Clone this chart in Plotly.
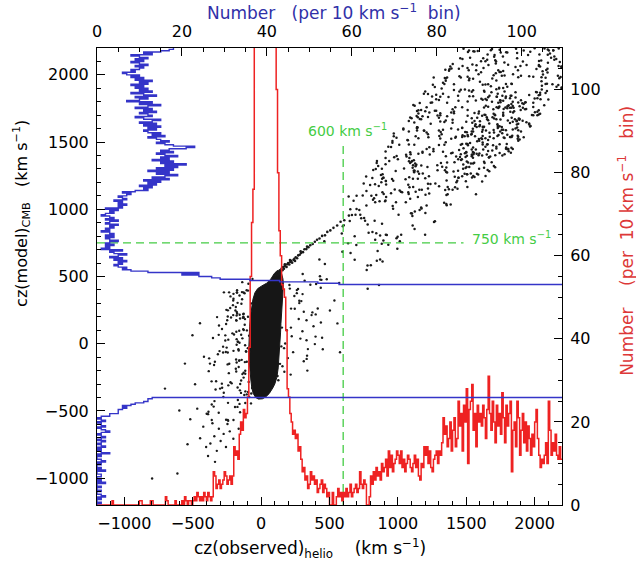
import plotly.graph_objects as go

FONT = "DejaVu Sans"
BIN_WIDTH = 10          # km/s per histogram bin
OBS_START = -1200       # first bin edge of cz(observed)
MODEL_START = -1200     # first bin edge of cz(model)

# Histogram of cz(observed)_helio (red, right axis), 10 km/s bins from -1200
red_counts = [
    0,0,0,0,0,0,0,0,0,0,
    0,1,0,0,0,0,0,0,0,0,
    0,0,0,0,0,0,0,0,0,0,
    0,1,1,0,0,0,0,0,0,1,
    1,0,0,0,0,0,0,0,0,0,
    2,1,0,0,0,0,0,1,0,0,
    0,0,1,0,2,1,0,1,1,0,
    1,2,1,3,2,1,2,1,3,2,
    1,3,2,1,2,8,7,4,5,6,
    4,5,6,8,7,5,6,7,5,7,
    14,12,13,11,17,20,18,23,21,22,
    26,38,55,68,76,180,320,450,520,560,
    580,600,560,520,480,430,380,320,260,200,
    150,100,80,66,60,53,52,50,42,28,
    26,22,20,17,18,16,17,13,14,11,
    8,9,6,7,4,5,8,6,7,5,
    6,3,4,5,6,3,5,4,2,3,
    0,0,3,0,0,2,4,2,3,1,
    3,2,4,2,3,5,2,3,4,5,
    3,4,8,5,4,6,5,0,0,2,
    7,5,8,6,9,7,8,6,10,8,
    9,11,7,13,9,12,8,10,11,13,
    12,10,13,9,11,8,10,12,11,9,
    8,10,12,9,11,7,6,10,9,14,
    12,14,10,13,9,8,11,12,13,10,
    13,12,15,21,17,19,14,16,20,13,
    18,21,14,16,25,19,22,13,24,20,
    28,10,23,25,29,18,22,14,24,20,
    22,19,24,21,16,23,31,22,18,25,
    20,15,24,19,22,17,27,21,15,24,
    19,22,25,8,18,20,14,25,21,12,
    18,22,15,20,13,19,16,12,17,14,
    20,23,16,12,9,11,10,12,15,10,
    25,18,12,15,13,17,12,11,14,11,
]

# Histogram of cz(model)_CMB (blue, top axis), 10 km/s bins from -1200
blue_counts = [
    0,1,0,0,1,0,2,1,0,0,
    1,0,0,1,0,0,2,0,1,0,
    0,1,1,0,0,2,0,1,0,0,
    1,0,2,1,0,0,1,0,3,1,
    0,1,0,2,1,0,1,2,0,1,
    2,1,0,1,3,2,1,0,2,1,
    1,0,2,1,0,1,3,3,5,5,
    5,6,7,6,8,9,11,12,12,13,
    140,180,220,260,300,340,380,420,460,500,
    540,560,580,600,620,640,650,660,670,680,
    690,700,700,710,720,720,730,730,740,740,
    750,750,760,760,760,770,770,770,780,780,
    780,780,790,790,790,780,780,770,770,760,
    760,750,740,730,720,710,700,680,660,640,
    620,600,580,560,540,520,500,470,440,410,
    380,350,320,290,260,230,200,180,160,140,
    250,200,160,125,57,52,43,36,29,27,
    24,20,24,12,8,6,7,5,4,6,
    5,7,4,6,3,5,7,4,3,6,
    1,3,2,4,2,3,5,3,2,4,
    2,4,3,1,3,2,4,3,5,2,
    3,5,2,4,3,1,2,4,3,5,
    2,6,5,7,5,6,4,7,6,5,
    7,8,6,9,12,11,13,10,14,12,
    15,11,17,13,16,19,14,17,12,18,
    14,19,16,21,15,18,13,17,15,19,
    16,14,18,15,17,21,23,18,16,14,
    17,15,14,12,16,13,15,12,11,14,
    12,15,11,14,10,13,15,11,9,13,
    12,10,14,11,13,9,12,15,10,13,
    7,10,12,9,14,11,8,13,10,12,
    9,11,8,12,10,13,9,11,8,10,
    7,6,9,8,10,11,9,12,10,8,
    11,9,12,10,8,13,11,15,17,18,
]

# Outline (obs, model) of the saturated dense core of galaxies
core_outline = [
    (118,545),(135,540),(150,520),(160,480),(163,440),(160,400),(157,340),(155,290),
    (150,220),(145,150),(142,80),(140,40),(135,-30),(130,-100),(125,-180),(115,-250),
    (100,-300),(85,-330),(60,-370),(35,-395),(10,-410),(-20,-412),(-40,-400),(-58,-370),
    (-68,-330),(-75,-270),(-82,-200),(-88,-120),(-90,-40),(-88,50),(-84,130),(-78,200),
    (-70,270),(-60,330),(-45,380),(-25,410),(5,430),(40,450),(70,480),(95,520),
]

# Individual galaxies (obs, model) around the core
halo_points = [
    (-202,371),(-234,382),(-128,381),(-272,382),(-140,384),(-158,359),(-172,304),(-224,352),(-202,335),
    (-178,236),(-244,202),(-206,287),(-188,247),(-204,213),(-254,252),(-226,266),(-128,224),(-144,297),
    (-248,175),(-180,172),(-256,147),(-286,109),(-308,136),(-130,199),(-128,195),(-220,195),(-182,174),
    (-160,96),(-198,69),(-146,67),(-262,62),(-210,77),(-262,24),(-158,7),(-310,66),(-240,30),
    (-244,-65),(-278,-65),(-202,-53),(-166,-41),(-304,-55),(-252,-29),(-258,-62),(-316,-79),(-278,-22),
    (-374,-148),(-233,-149),(-338,-134),(-344,-158),(-161,-126),(-164,-173),(-245,-154),(-119,-137),(-380,-109),
    (-182,-207),(-362,-280),(-287,-297),(-215,-295),(-116,-201),(-329,-279),(-236,-219),(-137,-226),(-224,-287),
    (-333,-341),(-300,-334),(-72,-371),(-276,-396),(-273,-365),(-285,-328),(-240,-310),(-87,-397),(-147,-366),
    (-191,-471),(-158,-448),(-242,-440),(-116,-441),(-74,-444),(-173,-470),(-341,-427),(-170,-419),(-347,-468),
    (-361,-568),(-310,-514),(-241,-573),(-385,-506),(-256,-566),(-154,-510),(-388,-524),(-202,-568),(-244,-567),
    (-177,382),(-106,398),(-176,380),(-121,375),(-139,331),(-96,395),
    (-175,225),(-179,210),(-130,219),(-96,201),(-157,215),(-185,273),
    (-118,183),(-120,141),(-154,187),(-133,193),(-131,107),(-127,102),
    (-171,15),(-137,40),(-181,89),(-169,14),(-104,99),(-179,34),
    (-117,-12),(-109,-59),(-97,-33),(-164,-50),(-179,-8),(-111,-56),
    (-159,-124),(-185,-186),(-179,-140),(-105,-134),(-142,-120),(-183,-118),
    (-146,-274),(-128,-252),(-153,-300),(-91,-284),(-128,-216),(-116,-223),
    (-95,-359),(-123,-382),(-155,-347),(-172,-326),(-105,-377),(-115,-355),
    (-402,-768),(-388,-836),(-446,-703),(-337,-879),(-538,-748),(-612,-966),(-703,-334),
    (-797,-1003),(-518,-562),(-467,-483),(-423,-617),(-361,-452),(-383,-204),(-418,-97),
    (-352,43),(-322,198),(-447,152),(-243,248),(-204,321),(-176,398),(-557,-148),
    (-483,-302),(-598,-497),(-502,63),(-138,458),(-63,482),(-93,446),(-371,-743),
    (-257,-769),(-324,-797),(-296,-724),(-342,-689),(-309,-633),(-274,-671),(-229,-652),
    (-203,-707),(-246,-597),(-356,-592),(-164,-633),(-398,-521),
    (-86,-150),(-82,-60),(-88,60),(152,120),(148,-20),(138,-150),(120,-240),(-72,300),(-66,-330),
    (207,437),(210,410),(441,475),(360,439),(270,407),(432,477),(402,444),
    (261,399),(279,320),(303,369),(243,355),(294,317),(279,302),(261,376),
    (399,218),(312,238),(246,260),(414,262),(219,261),(375,233),(369,213),
    (275,184),(437,158),(383,130),(188,100),(332,175),(218,120),
    (446,44),(302,93),(287,38),(332,26),(224,56),(176,2),
    (393,-3),(342,-40),(168,-33),(234,-63),(336,-89),
    (156,-168),(338,-200),(312,-130),(196,-107),
    (126,-272),(216,-230),(170,-209),
    (503,247),(558,151),(536,322),(577,-64),(451,-41),(398,53),(480,480),(333,-113),
]

# Narrow diagonal streak leaving the core toward higher velocities
streak_points = [
    (103,507),(111,521),(119,513),(124,532),(131,519),(137,546),(143,536),(149,558),
    (156,547),(161,571),(167,558),(173,577),(179,587),(186,571),(193,592),(198,600),
    (206,589),(213,608),(219,617),(227,603),(237,624),(243,631),(253,643),(263,636),
    (271,657),(282,662),(291,674),(306,681),(317,703),(331,704),(346,718),(359,733),
    (377,742),(393,758),(409,773),(427,783),(446,802),(467,806),(484,832),(506,843),
    (529,862),(556,879),(581,907),(608,918),(642,953),(173,590),(211,622),(248,615),
    (289,688),(336,722),
]

# Broad band of galaxies at larger velocities
band_points = [
    (1512,2171),(1520,2182),(2136,2181),(1920,2182),(1680,2184),(2112,2159),(2032,2104),
    (1656,2152),(1704,2135),(1768,2136),(1608,2102),(1744,2187),(1707,2147),(1653,2113),
    (2035,2152),(1800,2166),(1624,2124),(2072,2197),(1552,2175),(1968,2172),(1952,2147),
    (1712,2109),(2144,2136),(2000,2199),(1480,2195),(1864,2195),(1560,2174),(2176,2196),
    (1792,2169),(1752,2167),(1872,2162),(1584,2177),(1456,2124),(2048,2107),
    (1896,2066),(1374,2030),(1572,2035),(1878,2035),(1392,2047),(2196,2059),(2094,2045),
    (1575,2071),(1347,2038),(1752,2021),(1545,2078),(1626,2052),(1509,2051),(1473,2066),
    (1377,2042),(2031,2074),(2058,2027),(1446,2046),(2040,2063),(2097,2091),(1779,2093),
    (1608,2020),(2061,2003),(1590,2005),(1914,2099),(1743,2021),(1401,2081),(1662,2074),
    (1716,2013),(1860,2059),(2175,2066),(1770,2029),(1842,2004),(1518,2035),
    (1550,1972),(1960,1990),(1770,1903),(1830,1934),(1640,1929),(2050,1952),(1520,1960),
    (1720,1959),(1350,1956),(1410,1930),(1690,1973),(1262,1981),(2080,1932),(1340,1932),
    (1510,1986),(1256,1927),(2170,1994),(2090,1934),(1450,1990),(1343,1976),(1790,1932),
    (1833,1933),(1880,1982),(1700,1998),(1460,1980),(2180,1975),(2130,1931),(1780,1995),
    (2173,1925),(1270,1910),(2053,1919),(2198,1901),(1680,1915),(1523,1973),(2050,1983),
    (1330,1941),(1990,1987),(1900,1993),
    (1770,1807),(1510,1802),(1620,1815),(1790,1840),(1460,1889),(1650,1814),(1740,1899),
    (1660,1834),(1410,1888),(1550,1841),(2040,1867),(1960,1850),(1490,1892),(1830,1844),
    (1450,1876),(1300,1814),(1190,1860),(2080,1866),(2090,1880),(1630,1882),(1820,1826),
    (2030,1848),(1840,1800),(2100,1816),(1520,1884),(1780,1877),(1523,1841),(2043,1818),
    (1280,1853),(1633,1874),(1610,1823),(1440,1845),(1824,1844),(2000,1824),(1310,1837),
    (1570,1810),(1540,1875),(1250,1839),(1443,1807),(1200,1877),(1670,1844),(1320,1899),
    (1230,1720),(1840,1769),(1830,1755),(1560,1717),(1980,1702),(1113,1776),(1770,1718),
    (1170,1738),(1420,1760),(1660,1762),(1990,1761),(1280,1733),(1590,1713),(1920,1784),
    (1630,1758),(1200,1730),(1310,1700),(2070,1775),(1390,1720),(1400,1744),(1360,1793),
    (1510,1738),(2020,1726),(1820,1756),(1640,1702),(1750,1797),(1470,1760),(1890,1767),
    (2030,1737),(1700,1711),(1140,1732),(1710,1700),(1123,1770),(1240,1793),(1410,1728),
    (1643,1770),(1160,1791),(1593,1727),(1930,1744),(1150,1737),(1773,1747),(1633,1704),
    (1160,1672),(1870,1630),(1170,1669),(1720,1669),(1540,1677),(1970,1620),(1180,1693),
    (1140,1610),(1630,1614),(1966,1616),(1360,1692),(1090,1683),(1750,1668),(1730,1619),
    (1390,1602),(1600,1655),(1620,1615),(1624,1610),(1220,1686),(1560,1657),(1120,1646),
    (1240,1637),(1890,1672),(1143,1611),(1760,1612),(1840,1652),(1960,1638),(1290,1697),
    (1146,1684),(1820,1642),(1340,1650),(1080,1656),(1137,1695),(1880,1636),(1510,1696),
    (1100,1677),(1470,1607),(1650,1685),(1400,1644),(2020,1699),(1653,1669),(1770,1696),
    (1900,1579),(1620,1546),(1300,1586),(1130,1544),(1800,1554),(1700,1590),(1220,1559),
    (1190,1587),(1840,1593),(1070,1516),(1223,1536),(1880,1588),(1760,1592),(1780,1530),
    (960,1509),(1140,1587),(1440,1593),(1073,1514),(1660,1515),(1770,1592),(1763,1565),
    (1774,1535),(1790,1589),(1540,1579),(990,1532),(1470,1538),(1303,1546),(1310,1526),
    (970,1543),(1820,1538),(1420,1532),(1080,1579),(1473,1550),(1610,1528),(1193,1584),
    (1890,1519),(1703,1571),(1670,1569),(1424,1539),(1040,1593),(1313,1575),(1880,1510),
    (1830,1458),(1826,1420),(1620,1497),(1840,1449),(1570,1444),(1550,1459),(1500,1423),
    (1650,1407),(1120,1481),(950,1464),(1540,1406),(1180,1428),(1230,1462),(1233,1408),
    (1350,1499),(1470,1486),(1330,1428),(1590,1403),(1260,1448),(1090,1425),(1660,1434),
    (1400,1421),(1390,1417),(1543,1406),(1300,1479),(1620,1482),(1150,1414),(1340,1480),
    (1510,1486),(1790,1451),(1810,1432),(1080,1482),(910,1430),(930,1466),(1800,1447),
    (1093,1409),(1690,1438),(1624,1444),
    (937,1360),(1351,1395),(1414,1350),(1081,1358),(856,1322),(1135,1331),(1468,1372),
    (1630,1353),(847,1359),(1126,1340),(1084,1381),(1288,1328),(1360,1348),(1354,1311),
    (1324,1317),(1090,1345),(1477,1302),(1549,1384),(1108,1310),(1111,1327),(1594,1301),
    (1063,1393),(1666,1385),(1129,1321),(1630,1310),(1504,1355),(1104,1359),(1117,1364),
    (1558,1346),(1702,1322),(1540,1394),(1495,1389),(1099,1354),(1675,1393),(1045,1303),
    (910,1381),(991,1396),(845,1344),
    (885,1228),(1407,1281),(1497,1209),(1119,1275),(1533,1266),(1587,1259),(813,1233),
    (768,1244),(888,1261),(1110,1228),(1551,1247),(876,1256),(1641,1248),(1056,1223),
    (1542,1237),(1122,1286),(1353,1278),(1200,1231),(1578,1265),(1146,1227),(1434,1212),
    (879,1201),(1290,1290),(1344,1291),(1470,1245),(1488,1264),(984,1285),(1182,1266),
    (820,1292),(894,1234),(1506,1260),(1443,1234),(1116,1286),(912,1210),
    (1157,1145),(1346,1143),(887,1126),(1085,1164),(1076,1182),(896,1113),(1013,1139),
    (770,1136),(1355,1107),(1031,1126),(743,1102),(1373,1149),(1079,1114),(1571,1112),
    (860,1173),(1301,1172),(1175,1145),(833,1187),(698,1100),(1364,1166),(842,1106),
    (1022,1131),(1220,1155),(1238,1188),(1229,1117),(977,1148),(797,1181),(1436,1152),
    (1202,1109),(950,1120),
    (640,1096),(1210,1028),(770,1029),(962,1025),(1354,1040),(914,1091),(818,1071),
    (1058,1053),(676,1064),(1386,1036),(1090,1078),(1146,1092),(906,1059),(698,1003),
    (866,1060),(652,1001),(1170,1013),(1357,1030),(834,1053),(1173,1005),(1338,1048),
    (826,1082),(965,1004),(909,1066),(986,1052),
    (648,913),(1124,984),(830,914),(1103,969),(1106,951),(1159,994),(760,915),(1271,911),
    (690,960),(718,994),(732,933),(1264,905),(1201,972),(1096,970),(753,936),(664,957),
    (1005,959),(725,959),
    (590,819),(1122,853),(919,809),(842,821),(779,886),(1024,811),(597,873),(604,881),
    (884,893),(786,826),(1199,811),(1108,879),(814,831),(870,805),(912,811),
    (990,785),(636,748),(996,707),(882,744),(462,762),(930,737),(684,799),(1014,762),
    (834,774),(998,795),(894,767),(696,735),
    (846,618),(594,685),(654,675),(870,627),(684,624),(852,689),(888,612),(426,627),
    (466,593),(778,581),(802,583),(430,501),(304,519),(772,549),
    (318,468),(436,417),(571,452),(779,409),(862,437),
    (1356,1215),(1360,1273),(1668,1283),(1560,1241),(1440,1287),(1656,1293),(1616,1207),
    (1428,1202),
    (1502,1315),(1534,1340),(1454,1389),(1522,1314),(1505,1399),(1478,1334),(1666,1388),
    (1550,1341),(1462,1367),(1686,1350),(1426,1392),(1634,1344),
    (1696,1476),(1576,1414),(1792,1460),(1720,1466),(1460,1480),(1652,1482),(1500,1426),
    (1808,1448),(1616,1400),(1596,1416),(1656,1484),(1512,1477),(1448,1441),(1744,1418),
    (1736,1553),(1504,1574),(1592,1523),(1728,1545),(1512,1544),(1876,1524),(1824,1537),
    (1595,1510),(1492,1575),(1672,1539),(1580,1507),(1616,1577),(1564,1544),(1548,1599),
    (1564,1620),(1856,1669),(1868,1655),(1596,1617),(1860,1602),(1884,1676),(1744,1618),
    (1668,1638),(1870,1660),(1660,1662),(1804,1661),(1728,1633),(1576,1613),(1692,1684),
    (1786,1758),(1850,1730),(1990,1700),(1810,1775),(1842,1720),(1698,1744),(1734,1793),
    (1898,1738),(1822,1726),(1846,1756),(1770,1702),(1934,1797),(1722,1760),(1802,1767),
    (1724,1837),(1748,1811),(1860,1832),(1688,1800),(2016,1870),(1720,1893),(1788,1828),
    (1684,1870),(2052,1891),(2020,1827),(1764,1844),(1722,1837),
    (2144,2112),(2096,2149),(1472,2119),(1640,2101),(2136,2183),(2104,2181),(1688,2193),
    (1528,2127),(2158,2118),(2096,2189),(1872,2124),(2120,2127),
    (1806,2075),(1716,2085),(2094,2018),(1734,2035),(2031,2067),(2184,2095),(1941,2074),
    (2195,2062),(1718,2099),(2085,2037),(1383,2062),(2013,2044),
    (2197,1907),(1600,1948),(2190,1985),(1800,1911),(1740,1905),(1660,1931),(2080,1979),
    (2160,1911),(1620,1926),(1760,1993),(1360,1981),(1350,1973),
    (1900,1811),(1550,1886),(1640,1821),(1750,1809),(2040,1853),(1280,1819),(1330,1859),
    (1730,1859),(1220,1857),(1370,1836),(1860,1870),(2010,1872),
    (2030,1705),(1270,1733),(1250,1794),(1210,1760),(2040,1711),(1310,1715),(1880,1794),
    (1800,1751),(1804,1769),(1410,1714),(1830,1784),(1150,1713),
    (1500,1652),(1400,1666),(1470,1604),(1300,1682),(1940,1648),(1730,1605),(1310,1653),
    (1960,1630),(1733,1613),(1040,1601),(1350,1660),(1140,1603),
    (1320,1559),(1620,1592),(1550,1578),(1920,1536),(970,1564),(1510,1553),(1210,1571),
    (1330,1591),(1880,1540),(1390,1525),(1150,1529),(1700,1528),
    (960,1496),(1180,1420),(1460,1409),(1720,1452),(1010,1481),(1210,1448),(1490,1417),
    (1500,1488),(1480,1455),(1260,1431),(1060,1406),(1640,1466),
    (838,1300),(973,1387),(1315,1345),(1441,1372),(1000,1373),(1711,1312),(1216,1314),
    (1513,1349),(883,1302),(1171,1326),(1495,1307),(910,1336),
    (1083,1239),(966,1213),(1146,1282),(1155,1264),(957,1226),(1416,1243),(1227,1245),
    (912,1210),(1119,1286),(1443,1234),(1506,1260),(894,1234),
    (750,1192),(1112,1166),(914,1185),(1418,1164),(1400,1145),(1274,1191),(1220,1190),
    (806,1101),(1364,1112),(1076,1127),(1508,1165),(1130,1131),
    (1748,1578),(1644,1586),(1832,1537),(1616,1523),(1876,1548),(1536,1556),(1836,1547),
    (1640,1528),(1540,1561),(1488,1544),
    (1568,1633),(1912,1659),(1888,1666),(1704,1675),(1872,1609),(1832,1681),(1600,1628),
    (1544,1644),(1616,1696),(1580,1681),
    (1710,1703),(1990,1793),(1734,1754),(1910,1789),(1930,1794),(2002,1722),(1938,1746),
    (1742,1764),(1738,1759),(1914,1755),
    (1780,1410),(1556,1421),(1796,1485),(1528,1493),(1764,1401),(1548,1427),(1552,1410),
    (1744,1484),(1712,1402),(1540,1445),
]

# Reference velocity cuts (green dashed)
vcut_obs = 600
vcut_model_top = 1470
hcut_model = 750
hcut_obs_end = 1480
vcut_label = ("600 km s<sup>−1</sup>", 630, 1590)
hcut_label = ("750 km s<sup>−1</sup>", 1830, 790)

RED = "#ee2222"
BLUE = "#3434c8"
GREEN = "#44cc44"


def step_edges(start, counts):
    edges = [start + BIN_WIDTH * i for i in range(len(counts) + 1)]
    vals = list(counts) + [counts[-1]]
    return edges, vals


fig = go.Figure()

# dense core
fig.add_trace(go.Scatter(
    x=[p[0] for p in core_outline] + [core_outline[0][0]],
    y=[p[1] for p in core_outline] + [core_outline[0][1]],
    mode="lines", fill="toself", fillcolor="#161616",
    line=dict(color="#161616", width=1), hoverinfo="skip", showlegend=False,
))

for pts, size in ((halo_points, 2.4), (streak_points, 2.6), (band_points, 2.5)):
    fig.add_trace(go.Scatter(
        x=[p[0] for p in pts], y=[p[1] for p in pts], mode="markers",
        marker=dict(color="#1a1a1a", size=size, line=dict(width=0)),
        showlegend=False,
    ))

# blue histogram of model velocities (horizontal)
b_edges, b_vals = step_edges(MODEL_START, blue_counts)
fig.add_trace(go.Scatter(
    x=b_vals, y=b_edges, xaxis="x2", yaxis="y", mode="lines",
    line=dict(color=BLUE, width=1.4, shape="vh"), showlegend=False,
))

# red histogram of observed velocities
r_edges, r_vals = step_edges(OBS_START, red_counts)
fig.add_trace(go.Scatter(
    x=r_edges, y=r_vals, xaxis="x", yaxis="y2", mode="lines",
    line=dict(color=RED, width=1.5, shape="hv"), showlegend=False,
))

# green dashed cuts
fig.add_trace(go.Scatter(
    x=[vcut_obs, vcut_obs], y=[-1200, vcut_model_top], mode="lines",
    line=dict(color=GREEN, width=1.3, dash="8px,5px"), showlegend=False,
))
fig.add_trace(go.Scatter(
    x=[-1200, hcut_obs_end], y=[hcut_model, hcut_model], mode="lines",
    line=dict(color=GREEN, width=1.3, dash="8px,5px"), showlegend=False,
))

for text, xx, yy in (vcut_label, hcut_label):
    fig.add_annotation(x=xx, y=yy, xref="x", yref="y", text=text, showarrow=False,
                       font=dict(family=FONT, size=14, color=GREEN))

tickfont = dict(family=FONT, size=16, color="black")


def axis(**kw):
    d = dict(showline=True, linecolor="black", linewidth=1, ticks="inside", ticklen=8,
             tickwidth=1, tickcolor="black", showgrid=False, zeroline=False,
             tickfont=tickfont, tickmode="linear", ticklabelstandoff=4, automargin=False)
    d.update(kw)
    return d


fig.update_layout(
    width=636, height=565,
    margin=dict(l=97, r=74, t=48, b=60),
    paper_bgcolor="white", plot_bgcolor="white",
    font=dict(family=FONT),
    xaxis=axis(range=[-1200, 2200], tick0=0, dtick=500, side="bottom",
               minor=dict(ticks="inside", ticklen=4, tick0=0, dtick=100, tickcolor="black")),
    yaxis=axis(range=[-1200, 2200], tick0=0, dtick=500,
               minor=dict(ticks="inside", ticklen=4, tick0=0, dtick=100, tickcolor="black")),
    xaxis2=axis(range=[0, 109.5], tick0=0, dtick=20, overlaying="x", side="top", anchor="y",
                minor=dict(ticks="inside", ticklen=4, tick0=0, dtick=5, tickcolor="black")),
    yaxis2=axis(range=[0, 110], tick0=0, dtick=20, overlaying="y", side="right", anchor="x",
                minor=dict(ticks="inside", ticklen=4, tick0=0, dtick=5, tickcolor="black")),
)

fig.add_annotation(xref="paper", yref="paper", x=0, y=0.637, xshift=-75, textangle=-90,
                   xanchor="center", yanchor="middle",
                   text="cz(model)<sub>CMB</sub>   (km s<sup>−1</sup>)", showarrow=False,
                   font=dict(family=FONT, size=16, color="black"))
fig.add_annotation(xref="paper", yref="paper", x=0.458, y=0, yshift=-43,
                   xanchor="center", yanchor="middle",
                   text="cz(observed)<sub>helio</sub>    (km s<sup>−1</sup>)", showarrow=False,
                   font=dict(family=FONT, size=17, color="black"))
fig.add_annotation(xref="paper", yref="paper", x=0.51, y=1, yshift=36,
                   xanchor="center", yanchor="middle",
                   text="Number   (per 10 km s<sup>−1</sup>  bin)", showarrow=False,
                   font=dict(family=FONT, size=17, color="#3030a8"))
fig.add_annotation(xref="paper", yref="paper", x=1, y=0.578, xshift=64, textangle=-90,
                   xanchor="center", yanchor="middle",
                   text="Number    (per  10 km s<sup>−1</sup>   bin)", showarrow=False,
                   font=dict(family=FONT, size=17, color="#dd3838"))

# the page body has a default 8px margin; remove it so the figure fills the window
fig.write_html("out.html", config={"displayModeBar": False},
               post_script="document.body.style.margin='0px';")
